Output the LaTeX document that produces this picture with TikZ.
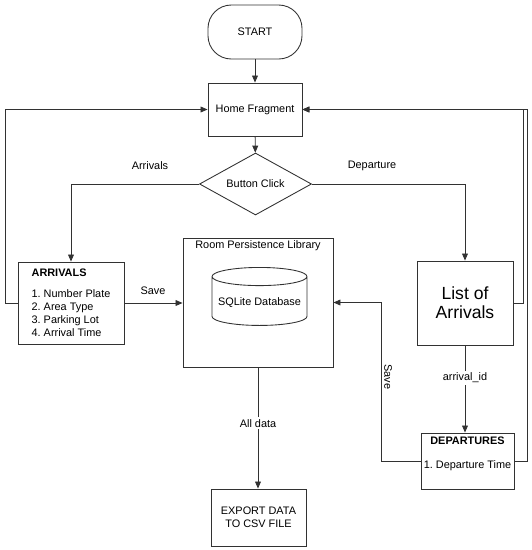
\documentclass[tikz,border=0pt]{standalone}
\usepackage{fontspec}
\setmainfont{Liberation Sans}
\usetikzlibrary{shapes.geometric,arrows.meta}
\frenchspacing

\begin{document}
\begin{tikzpicture}[x=0.03cm, y=-0.03cm, every node/.style={font=\fontsize{9.3}{11}\selectfont}]
	% Define colors
	\definecolor{linegray}{RGB}{50, 50, 50}

	% Styles
	\tikzstyle{term_box} = [draw=linegray, line width=0.75pt, rounded corners=0.7cm, minimum width=2.82cm, minimum height=1.62cm, align=center]
	\tikzstyle{proc_box} = [draw=linegray, line width=0.75pt, align=center]
	\tikzstyle{click_dia} = [diamond, draw=linegray, line width=0.75pt, aspect=1.8, inner sep=0pt, minimum width=3.36cm, minimum height=1.86cm]
	\tikzstyle{db_cyl} = [cylinder, shape border rotate=90, aspect=0.2, draw=linegray, line width=0.75pt, minimum width=2.85cm, minimum height=1.74cm]
	\tikzstyle{flow} = [draw=linegray, line width=0.75pt, -{Triangle[length=6pt, width=5pt]}]
	\tikzstyle{on_line} = [fill=white, inner sep=1.5pt]

	\useasboundingbox (0,0) rectangle (532,550);

	% Main flow
	\node[term_box] (start) at (255, 32) {START};
	\node[proc_box, minimum width=2.82cm, minimum height=1.59cm] (home) at (255, 109.5) {Home Fragment};
	\node[click_dia] (click) at (255.5, 184) {Button Click};

	% Arrivals side
	\node[proc_box, minimum width=3.18cm, minimum height=2.46cm, align=left] (arr) at (71, 303)
		{\textbf{ARRIVALS}\\[7pt]1. Number Plate\\2. Area Type\\3. Parking Lot\\4. Arrival Time};

	% Storage
	\node[proc_box, minimum width=4.5cm, minimum height=3.87cm] (room) at (258, 302.5) {};
	\node[anchor=north, inner sep=2pt] (roomlbl) at (room.north) {Room Persistence Library};
	\node[db_cyl] (sqlite) at (259.5, 303) {SQLite Database};
	\node[proc_box, minimum width=2.85cm, minimum height=1.71cm] (exp) at (258.5, 517.5) {EXPORT DATA\\TO CSV FILE};

	% Departure side
	\node[proc_box, minimum width=2.88cm, minimum height=2.52cm, font=\fontsize{15}{16.5}\selectfont] (list) at (465, 303) {List of\\Arrivals};
	\node[proc_box, minimum width=2.79cm, minimum height=1.68cm] (dep) at (467.5, 461) {};
	\node[align=center] (deptxt) at (467.5, 454) {\textbf{DEPARTURES}\\[9pt]1. Departure Time};

	% Loop lines
	\coordinate (loopL) at (5, 0);
	\coordinate (loopR1) at (523, 0);
	\coordinate (loopR2) at (527, 0);
	\coordinate (loopS) at (381, 0);

	% Arrows
	\draw[flow] (start) -- (home);
	\draw[flow] (home) -- (click);
	\draw[flow] (click.west) -| (arr.north);
	\draw[flow] (click.east) -| (list.north);
	\draw[flow] (arr.west) -- (arr.west -| loopL) |- (home.west);
	\draw[flow] (list.east) -- (list.east -| loopR1) |- (home.east);
	\draw[flow] (dep.east) -- (dep.east -| loopR2) |- (home.east);
	\draw[flow] (arr.east) -- (arr.east -| room.west);
	\draw[flow] (dep.west) -- (dep.west -| loopS) |- (room.east);
	\draw[flow] (list.south) -- node[on_line, pos=0.375] (arrid) {arrival\_id} (list.south |- dep.north);
	\draw[flow] (room.south) -- node[on_line, pos=0.46] (alldata) {All data} (room.south |- exp.north);

	% Branch labels
	\node (lbl_arr) at (150, 166) {Arrivals};
	\node (lbl_dep) at (372, 166) {Departure};
	\node (lbl_save) at (153, 291) {Save};
	\node[rotate=-90] (lbl_save2) at (388, 377) {Save};

\end{tikzpicture}
\end{document}
